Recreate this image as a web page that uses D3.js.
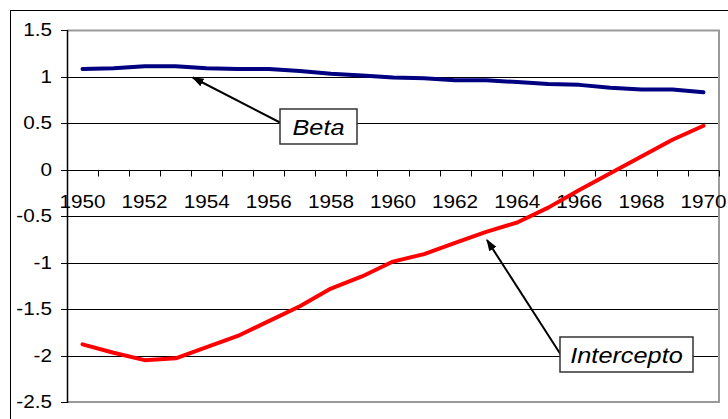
<!DOCTYPE html>
<html>
<head>
<meta charset="utf-8">
<script src="https://cdn.jsdelivr.net/npm/d3@7"></script>
<style>
  html, body { margin: 0; padding: 0; background: #fff; }
  svg { display: block; font-family: "Liberation Sans", Arial, sans-serif; }
</style>
</head>
<body>
<svg id="chart" width="728" height="419"></svg>
<script>
// Regression coefficients by year
const years = d3.range(1950, 1971);
const beta = [1.08, 1.09, 1.11, 1.11, 1.09, 1.08, 1.08, 1.06, 1.03, 1.01, 0.99,
              0.98, 0.96, 0.96, 0.94, 0.92, 0.91, 0.88, 0.86, 0.86, 0.83];
const intercepto = [-1.88, -1.97, -2.05, -2.03, -1.91, -1.79, -1.63, -1.47, -1.28, -1.15, -0.99,
                    -0.91, -0.79, -0.67, -0.57, -0.41, -0.22, -0.04, 0.14, 0.32, 0.47];
const yTicks = [1.5, 1, 0.5, 0, -0.5, -1, -1.5, -2, -2.5];
const xLabels = years.filter((y, i) => i % 2 === 0);

const svg = d3.select("#chart");
const plot = { left: 67, top: 30, right: 719, bottom: 402 };
const SX = 1.15; // horizontal stretch of the text

const x = d3.scaleBand().domain(years).range([plot.left, plot.right]).paddingInner(0).paddingOuter(0);
const y = d3.scaleLinear().domain([-2.5, 1.5]).range([plot.bottom, plot.top]);
const cx = d => x(d) + x.bandwidth() / 2;

function label(g, tx, ty, str, anchor, size, italic) {
  return g.append("text")
    .attr("transform", `translate(${tx},${ty}) scale(${SX},1)`)
    .attr("text-anchor", anchor)
    .attr("font-size", size)
    .attr("font-style", italic ? "italic" : "normal")
    .attr("fill", "#000")
    .text(str);
}

// Outer chart border
svg.append("rect").attr("x", 10.5).attr("y", 10.5).attr("width", 730).attr("height", 420)
  .attr("fill", "none").attr("stroke", "#000").attr("stroke-width", 1);

// Gridlines
const grid = svg.append("g");
yTicks.filter(v => v !== 1.5 && v !== -2.5).forEach(v => {
  grid.append("line").attr("x1", plot.left).attr("x2", plot.right)
    .attr("y1", Math.round(y(v)) + 0.5).attr("y2", Math.round(y(v)) + 0.5)
    .attr("stroke", "#000").attr("stroke-width", 1);
});

// Plot area frame (top, right, bottom in gray)
svg.append("path")
  .attr("d", `M${plot.left},${plot.top + 0.5}H${plot.right}V${plot.bottom}H${plot.left}`)
  .attr("fill", "none").attr("stroke", "#9a9a9a").attr("stroke-width", 2);

// Y axis
const yAxis = svg.append("g");
yAxis.append("line").attr("x1", plot.left + 0.5).attr("x2", plot.left + 0.5)
  .attr("y1", plot.top).attr("y2", plot.bottom + 1).attr("stroke", "#000").attr("stroke-width", 1.5);
yTicks.forEach(v => {
  const yy = Math.round(y(v)) + 0.5;
  yAxis.append("line").attr("x1", plot.left - 6).attr("x2", plot.left)
    .attr("y1", yy).attr("y2", yy).attr("stroke", "#000");
  label(yAxis, 52, y(v) + 6.3, String(v), "end", 18, false);
});

// X axis at zero, ticks between categories
const xAxis = svg.append("g");
const y0 = Math.round(y(0)) + 0.5;
xAxis.append("line").attr("x1", plot.left).attr("x2", plot.right)
  .attr("y1", y0).attr("y2", y0).attr("stroke", "#000");
years.concat([null]).forEach((d, i) => {
  const xx = Math.round(d === null ? plot.right : x(d)) + 0.5;
  xAxis.append("line").attr("x1", xx).attr("x2", xx)
    .attr("y1", y0).attr("y2", y0 + 6).attr("stroke", "#000");
});
xLabels.forEach(d => label(xAxis, cx(d), 207.5, String(d), "middle", 18, false));

// Series lines
const line = d3.line().x((d, i) => cx(years[i])).y(d => y(d));
svg.append("path").datum(beta).attr("d", line)
  .attr("fill", "none").attr("stroke", "#000080").attr("stroke-width", 4)
  .attr("stroke-linejoin", "round").attr("stroke-linecap", "round");
svg.append("path").datum(intercepto).attr("d", line)
  .attr("fill", "none").attr("stroke", "#ff0000").attr("stroke-width", 4)
  .attr("stroke-linejoin", "round").attr("stroke-linecap", "round");

// Callouts
svg.append("defs").append("marker")
  .attr("id", "arrow").attr("viewBox", "0 0 10 10").attr("refX", 9).attr("refY", 5)
  .attr("markerWidth", 6).attr("markerHeight", 6).attr("orient", "auto-start-reverse")
  .attr("markerUnits", "strokeWidth")
  .append("path").attr("d", "M0,1.5L10,5L0,8.5Z").attr("fill", "#000");

function callout(text, box, from, to) {
  const g = svg.append("g");
  g.append("line").attr("x1", from[0]).attr("y1", from[1]).attr("x2", to[0]).attr("y2", to[1])
    .attr("stroke", "#000").attr("stroke-width", 2).attr("marker-end", "url(#arrow)");
  g.append("rect").attr("x", box[0]).attr("y", box[1]).attr("width", box[2]).attr("height", box[3])
    .attr("fill", "#fff").attr("stroke", "#333").attr("stroke-width", 1.5);
  label(g, box[0] + box[2] / 2, box[1] + box[3] / 2 + 8, text, "middle", 22, true);
}

callout("Beta", [280, 109, 77, 35], [281, 123], [cx(1954) - 14, y(1.0) + 1]);
callout("Intercepto", [560, 337, 133, 35], [561, 355], [487, 240]);
</script>
</body>
</html>
